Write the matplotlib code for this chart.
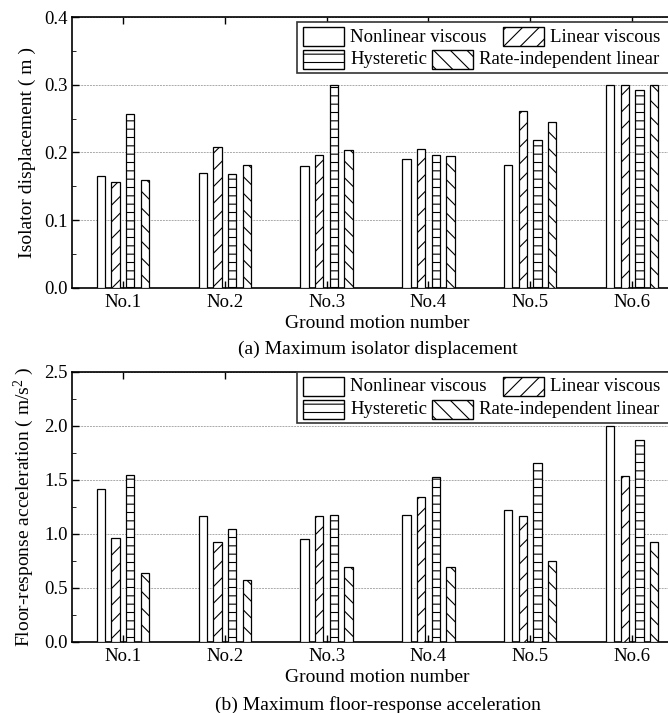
import matplotlib
matplotlib.use("Agg")
import matplotlib.pyplot as plt
import numpy as np
from matplotlib.patches import Rectangle
from matplotlib.ticker import MultipleLocator

plt.rcParams['font.family'] = ['Liberation Serif', 'DejaVu Serif']
plt.rcParams['mathtext.fontset'] = 'custom'
plt.rcParams['mathtext.rm'] = 'Liberation Serif'
plt.rcParams['mathtext.it'] = 'Liberation Serif:italic'
plt.rcParams['hatch.linewidth'] = 0.8

categories = ["No.1", "No.2", "No.3", "No.4", "No.5", "No.6"]
series = ["Nonlinear viscous", "Linear viscous", "Hysteretic", "Rate-independent linear"]
hatches = ["", "//", "--", "\\\\"]

disp_nonlinear = [0.166, 0.170, 0.180, 0.191, 0.182, 0.300]
disp_linear = [0.157, 0.208, 0.197, 0.205, 0.261, 0.300]
disp_hyst = [0.257, 0.169, 0.300, 0.197, 0.219, 0.292]
disp_rate = [0.159, 0.182, 0.204, 0.195, 0.245, 0.300]

acc_nonlinear = [1.42, 1.17, 0.957, 1.18, 1.22, 2.00]
acc_linear = [0.967, 0.923, 1.17, 1.34, 1.17, 1.54]
acc_hyst = [1.545, 1.05, 1.18, 1.53, 1.66, 1.87]
acc_rate = [0.643, 0.572, 0.692, 0.692, 0.748, 0.926]

W, H = 668, 713
fig = plt.figure(figsize=(W / 100, H / 100), dpi=100)

def px_axes(l, t, r, b):
    return fig.add_axes([l / W, 1 - b / H, (r - l) / W, (b - t) / H])

ax1 = px_axes(72, 17, 683, 288)
ax2 = px_axes(72, 372, 683, 642)

x = np.arange(1, 7)
step = 0.144
bw = 0.081
offsets = [-1.5 * step, -0.5 * step, 0.5 * step, 1.5 * step]

def draw(ax, data, ylim, major, minor, ylabel, xlabel, caption):
    for i, vals in enumerate(data):
        ax.bar(x + offsets[i], vals, width=bw, facecolor='white', edgecolor='black',
               linewidth=0.9, hatch=hatches[i], zorder=3)
    ax.set_xlim(0.5, 6.5)
    ax.set_ylim(*ylim)
    ax.set_xticks(x)
    ax.set_xticklabels(categories)
    ax.yaxis.set_major_locator(MultipleLocator(major))
    ax.yaxis.set_minor_locator(MultipleLocator(minor))
    ax.yaxis.set_major_formatter(matplotlib.ticker.FormatStrFormatter('%.1f'))
    ax.tick_params(axis='both', direction='in', labelsize=13.5, width=1, length=5)
    ax.tick_params(axis='x', top=True, bottom=True, pad=4)
    ax.tick_params(axis='y', which='minor', direction='in', length=3, left=True)
    ax.tick_params(axis='y', pad=3)
    ax.grid(axis='y', which='major', color='#aaaaaa', linestyle=(0, (2, 1)), linewidth=0.7, zorder=0)
    for s in ax.spines.values():
        s.set_linewidth(1.2)
    ax.set_ylabel(ylabel, fontsize=14, labelpad=6)
    ax.set_xlabel(xlabel, fontsize=14, labelpad=3)
    ax.text(0.5, caption[1], caption[0], transform=ax.transAxes, ha='center', va='center', fontsize=14)

draw(ax1, [disp_nonlinear, disp_linear, disp_hyst, disp_rate], (0, 0.4), 0.1, 0.05,
     "Isolator displacement ( m )", "Ground motion number",
     ("(a) Maximum isolator displacement", -0.228))
draw(ax2, [acc_nonlinear, acc_linear, acc_hyst, acc_rate], (0, 2.5), 0.5, 0.25,
     r"Floor-response acceleration ( m/s$^{2}$ )", "Ground motion number",
     ("(b) Maximum floor-response acceleration", -0.235))

def legend(top):
    fr = Rectangle((297 / W, 1 - (top + 51) / H), 380 / W, 51 / H, transform=fig.transFigure,
                   facecolor='white', edgecolor='#333333', linewidth=1.2, zorder=10)
    fig.patches.append(fr)
    rows = [[(303, 0), (503, 1)], [(303, 2), (432, 3)]]
    for r, row in enumerate(rows):
        yt = top + 5 + r * 23
        for (xl, si) in row:
            p = Rectangle((xl / W, 1 - (yt + 19) / H), 41 / W, 19 / H, transform=fig.transFigure,
                          facecolor='white', edgecolor='black', linewidth=1.0,
                          hatch=hatches[si], zorder=11)
            fig.patches.append(p)
            fig.text((xl + 47) / W, 1 - (yt + 10) / H, series[si], fontsize=13.5,
                     ha='left', va='center', zorder=12)

legend(22)
legend(372)

fig.savefig("out.png", dpi=100)
